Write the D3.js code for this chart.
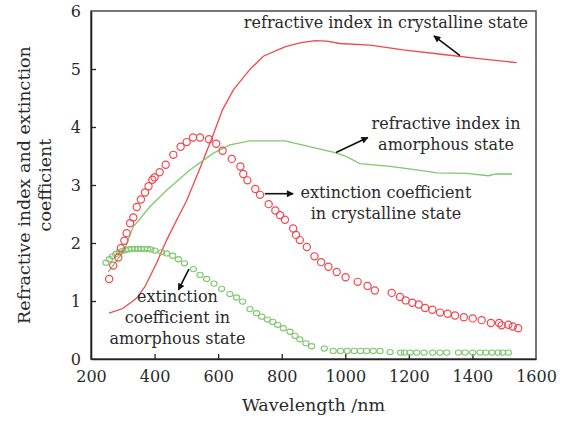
<!DOCTYPE html>
<html>
<head>
<meta charset="utf-8">
<script src="https://cdn.jsdelivr.net/npm/d3@7"></script>
<style>
  html, body { margin: 0; padding: 0; background: #fff; }
  svg { display: block; }
  text { font-family: "DejaVu Serif", serif; fill: #2a2a2a; }
</style>
</head>
<body>
<svg id="chart" width="570" height="423"></svg>
<script>
// ---- data ----
const xTicks = [200, 400, 600, 800, 1000, 1200, 1400, 1600];
const yTicks = [0, 1, 2, 3, 4, 5, 6];

// refractive index, crystalline (red line)
const nCrystW = [257, 300, 344, 370, 406, 438, 470, 500, 540, 580, 614, 648, 698, 742, 810, 857, 905, 941, 983, 1078, 1182, 1308, 1434, 1539];
const nCrystV = [0.79, 0.87, 1.05, 1.25, 1.65, 2.05, 2.4, 2.72, 3.25, 3.8, 4.3, 4.64, 4.98, 5.22, 5.38, 5.45, 5.49, 5.48, 5.44, 5.41, 5.33, 5.25, 5.17, 5.11];

// refractive index, amorphous (green line)
const nAmorW = [254, 302, 333, 386, 438, 511, 585, 637, 700, 810, 857, 968, 1004, 1046, 1141, 1225, 1288, 1382, 1450, 1476, 1525];
const nAmorV = [1.5, 1.85, 2.28, 2.63, 2.91, 3.26, 3.55, 3.69, 3.76, 3.76, 3.70, 3.56, 3.49, 3.37, 3.32, 3.26, 3.21, 3.20, 3.16, 3.19, 3.19];

// extinction coefficient, crystalline (red circles)
const kCrystW = [257, 270, 286, 294, 305, 312, 323, 333, 344, 357, 370, 381, 393, 400, 416, 435, 459, 482, 501, 521, 543, 571, 594, 614, 643, 670, 679, 692, 717, 732, 759, 780, 795, 810, 836, 845, 857, 879, 903, 924, 947, 973, 1001, 1039, 1070, 1093, 1146, 1172, 1190, 1211, 1231, 1251, 1274, 1298, 1322, 1345, 1373, 1401, 1429, 1458, 1484, 1492, 1513, 1527, 1544];
const kCrystV = [1.38, 1.61, 1.75, 1.91, 2.04, 2.17, 2.34, 2.44, 2.62, 2.75, 2.87, 2.98, 3.09, 3.13, 3.22, 3.35, 3.52, 3.66, 3.74, 3.82, 3.82, 3.79, 3.71, 3.59, 3.45, 3.32, 3.19, 3.08, 2.93, 2.83, 2.67, 2.56, 2.48, 2.40, 2.25, 2.14, 2.05, 1.93, 1.77, 1.67, 1.59, 1.50, 1.41, 1.33, 1.26, 1.18, 1.14, 1.07, 1.01, 0.97, 0.94, 0.88, 0.85, 0.80, 0.78, 0.75, 0.72, 0.70, 0.67, 0.62, 0.62, 0.58, 0.59, 0.56, 0.53];

// extinction coefficient, amorphous (green circles)
const kAmorW = [247, 258, 268, 278, 288, 298, 308, 318, 328, 338, 348, 358, 368, 378, 388, 401, 422, 438, 457, 475, 494, 522, 543, 564, 587, 611, 637, 658, 677, 700, 721, 737, 755, 772, 787, 805, 826, 842, 857, 876, 894, 934, 962, 985, 1006, 1028, 1048, 1067, 1088, 1109, 1141, 1174, 1186, 1204, 1225, 1248, 1275, 1298, 1319, 1356, 1377, 1401, 1424, 1442, 1462, 1481, 1495, 1513];
const kAmorV = [1.66, 1.72, 1.77, 1.81, 1.84, 1.86, 1.88, 1.89, 1.90, 1.90, 1.90, 1.90, 1.90, 1.90, 1.89, 1.87, 1.84, 1.82, 1.78, 1.72, 1.65, 1.55, 1.45, 1.38, 1.30, 1.21, 1.12, 1.06, 0.99, 0.86, 0.79, 0.73, 0.68, 0.64, 0.59, 0.53, 0.47, 0.40, 0.34, 0.27, 0.22, 0.18, 0.14, 0.14, 0.14, 0.14, 0.14, 0.14, 0.14, 0.14, 0.12, 0.11, 0.11, 0.11, 0.11, 0.11, 0.11, 0.11, 0.11, 0.11, 0.11, 0.11, 0.11, 0.11, 0.11, 0.11, 0.11, 0.11];

// annotations: text lines with anchor (data units) and arrows (data units)
const annoLines = [
  ["refractive index in crystalline state"],
  ["refractive index in", "amorphous state"],
  ["extinction coefficient", "in crystalline state"],
  ["extinction", "coefficient in", "amorphous state"]
];
const annoAt = [[1128, 5.70], [1317, 3.97], [1128, 2.78], [472, 0.98]];
const arrowFrom = [[1361, 5.23], [971, 3.56], [747, 2.85], [508, 1.55]];
const arrowTo = [[1279, 5.57], [1071, 3.82], [836, 2.85], [475, 1.19]];

const xTitle = "Wavelength /nm";
const yTitle = ["Refractive index and extinction", "coefficient"];

// ---- drawing ----
const RED = "#f1474d", GREEN = "#7fc86e";
const svg = d3.select("#chart");
const x = d3.scaleLinear().domain([200, 1600]).range([91, 536]);
const y = d3.scaleLinear().domain([0, 6]).range([359, 11]);

// frame (top/right)
svg.append("rect").attr("x", x(200)).attr("y", y(6))
  .attr("width", x(1600) - x(200)).attr("height", y(0) - y(6))
  .attr("fill", "none").attr("stroke", "#555").attr("stroke-width", 1.6);

const fmt = d3.format("d");
const xAxis = svg.append("g").attr("transform", `translate(0,${y(0)})`)
  .call(d3.axisBottom(x).tickValues(xTicks).tickFormat(fmt).tickSizeInner(-5).tickSizeOuter(0).tickPadding(12));
const yAxis = svg.append("g").attr("transform", `translate(${x(200)},0)`)
  .call(d3.axisLeft(y).tickValues(yTicks).tickFormat(fmt).tickSizeInner(-5).tickSizeOuter(0).tickPadding(10));
[xAxis, yAxis].forEach(g => {
  g.select(".domain").attr("stroke", "#222").attr("stroke-width", 1.6);
  g.selectAll(".tick line").attr("stroke", "#222").attr("stroke-width", 1.3);
  g.selectAll(".tick text").style("font-family", "DejaVu Serif, serif")
    .style("font-size", "16px").attr("fill", "#2a2a2a");
});
yAxis.selectAll(".tick").filter(d => d === 6 || d === 0).select("line").remove();
xAxis.selectAll(".tick").filter(d => d === 200 || d === 1600).select("line").remove();

// lines
const line = d3.line().x(d => x(d[0])).y(d => y(d[1]));
svg.append("path").datum(d3.zip(nCrystW, nCrystV))
  .attr("d", line).attr("fill", "none").attr("stroke", RED).attr("stroke-width", 1.3);
svg.append("path").datum(d3.zip(nAmorW, nAmorV))
  .attr("d", line).attr("fill", "none").attr("stroke", GREEN).attr("stroke-width", 1.3);

// circles
svg.append("g").selectAll("ellipse").data(d3.zip(kAmorW, kAmorV)).join("ellipse")
  .attr("cx", d => x(d[0])).attr("cy", d => y(d[1])).attr("rx", 3.1).attr("ry", 2.6)
  .attr("fill", "none").attr("stroke", GREEN).attr("stroke-width", 1.1);
svg.append("g").selectAll("circle").data(d3.zip(kCrystW, kCrystV)).join("circle")
  .attr("cx", d => x(d[0])).attr("cy", d => y(d[1])).attr("r", 3.6)
  .attr("fill", "none").attr("stroke", RED).attr("stroke-width", 1.2);

// arrows
svg.append("defs").append("marker").attr("id", "ah")
  .attr("viewBox", "0 0 10 10").attr("refX", 9).attr("refY", 5)
  .attr("markerWidth", 9).attr("markerHeight", 7).attr("markerUnits", "userSpaceOnUse")
  .attr("orient", "auto")
  .append("path").attr("d", "M0,0 L10,5 L0,10 Z").attr("fill", "#111");
arrowFrom.forEach((f, i) => {
  svg.append("line").attr("x1", x(f[0])).attr("y1", y(f[1]))
    .attr("x2", x(arrowTo[i][0])).attr("y2", y(arrowTo[i][1]))
    .attr("stroke", "#111").attr("stroke-width", 1.6).attr("marker-end", "url(#ah)");
});

// annotation text
annoLines.forEach((lines, i) => {
  const t = svg.append("text").attr("text-anchor", "middle").style("font-size", "16px");
  lines.forEach((s, j) => {
    t.append("tspan").attr("x", x(annoAt[i][0])).attr("y", y(annoAt[i][1]) + j * 21).text(s);
  });
});

// axis titles
svg.append("text").attr("x", (x(200) + x(1600)) / 2).attr("y", 411)
  .attr("text-anchor", "middle").style("font-size", "17.5px").text(xTitle);
const yt = svg.append("text").attr("text-anchor", "middle").style("font-size", "17.5px")
  .attr("transform", `translate(0,${(y(0) + y(6)) / 2}) rotate(-90)`);
yTitle.forEach((s, j) => yt.append("tspan").attr("x", 0).attr("y", 30 + j * 21).text(s));
</script>
</body>
</html>
